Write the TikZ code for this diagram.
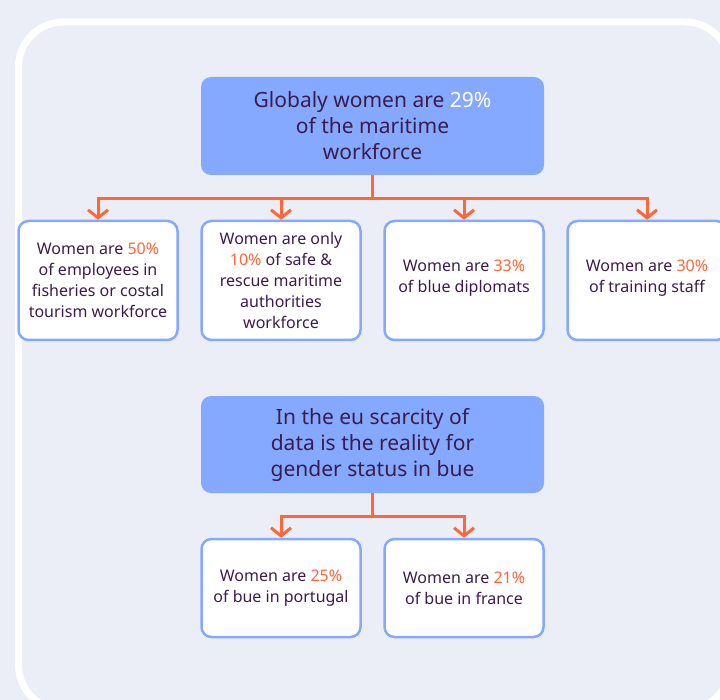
\documentclass[tikz,border=0pt]{standalone}
\usepackage{fontspec}
\setmainfont{Noto Sans}
\usepackage{xcolor}
\usepackage{tikz}
\usetikzlibrary{trees, arrows.meta, positioning}

\definecolor{pagebg}{HTML}{EBEEF6}
\definecolor{boxblue}{HTML}{84A9FF}
\definecolor{linkorange}{HTML}{FF6638}
\definecolor{inkpurple}{HTML}{3B1C4C}
\newcommand{\pct}[1]{\textcolor{linkorange}{#1}}

\begin{document}
\begin{tikzpicture}[x=1pt, y=1pt, level 1/.style={sibling distance=183pt}, headbox/.style={rectangle, rounded corners=10pt, fill=boxblue, text=inkpurple, minimum width=343pt, minimum height=98pt, align=center, font=\fontsize{21}{26}\selectfont}, factbox/.style={rectangle, rounded corners=10pt, draw=boxblue, line width=2.5pt, fill=white, text=inkpurple, minimum width=159pt, minimum height=119pt, align=center, font=\fontsize{16}{21}\selectfont}, edge from parent/.style={draw=linkorange, line width=3pt, -{Straight Barb[length=8pt, width=20pt]}}, edge from parent path={(\tikzparentnode.south) -- ++(0,-23) -| (\tikzchildnode.north)}]
  \useasboundingbox[fill=pagebg] (0,0) rectangle (720,-700);
  \draw[white, line width=7pt, rounded corners=45pt] (18.5,-22) rectangle (730,-710);

  \node[headbox] (globalhead) at (372.5,-126) {Globaly women are \textcolor{white}{29\%}\\of the maritime\\workforce}
    [level distance=154.5pt]
    child { node[factbox] (fisheries) {Women are \pct{50\%}\\of employees in\\fisheries or costal\\tourism workforce} }
    child { node[factbox] (rescue) {Women are only\\\pct{10\%} of safe \&\\rescue maritime\\authorities\\workforce} }
    child { node[factbox] (diplomats) {Women are \pct{33\%}\\of blue diplomats\\[-13pt]} }
    child { node[factbox] (training) {Women are \pct{30\%}\\of training staff\\[-13pt]} };

  \node[headbox, minimum height=97pt] (euhead) at (372.5,-444.5) {In the eu scarcity of\\data is the reality for\\gender status in bue}
    [level distance=143.5pt]
    child { node[factbox, minimum height=98pt] (portugal) {Women are \pct{25\%}\\of bue in portugal} }
    child { node[factbox, minimum height=98pt] (france) {Women are \pct{21\%}\\of bue in france} };
\end{tikzpicture}
\end{document}
